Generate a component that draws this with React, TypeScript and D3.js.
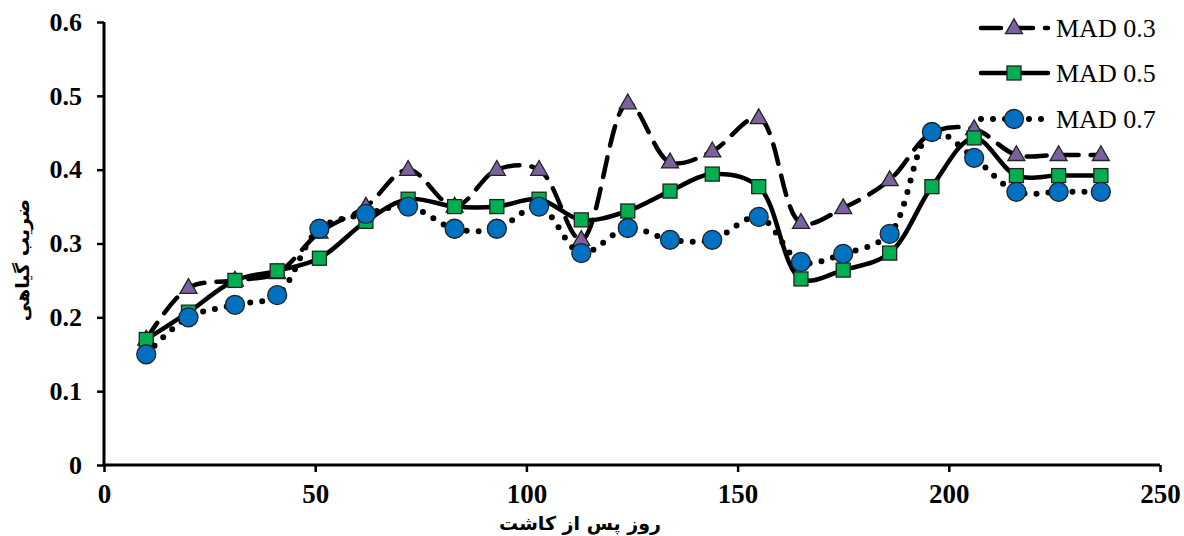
import React, { useEffect, useRef } from "react";
import * as d3 from "d3";

// Days after planting at which the crop coefficient was measured
const days = [10, 20, 31, 41, 51, 62, 72, 83, 93, 103, 113, 124, 134, 144, 155, 165, 175, 186, 196, 206, 216, 226, 236];

// Crop coefficient for each management allowable depletion level
const mad03 = [0.17, 0.24, 0.25, 0.26, 0.315, 0.35, 0.40, 0.35, 0.40, 0.40, 0.305, 0.49, 0.41, 0.425, 0.47, 0.328, 0.348, 0.386, 0.45, 0.455, 0.42, 0.42, 0.42];
const mad05 = [0.17, 0.207, 0.25, 0.263, 0.28, 0.33, 0.36, 0.35, 0.35, 0.36, 0.332, 0.344, 0.371, 0.394, 0.377, 0.252, 0.264, 0.287, 0.377, 0.443, 0.392, 0.392, 0.392];
const mad07 = [0.15, 0.20, 0.217, 0.23, 0.32, 0.34, 0.35, 0.32, 0.32, 0.35, 0.287, 0.321, 0.305, 0.305, 0.336, 0.275, 0.286, 0.313, 0.451, 0.416, 0.37, 0.37, 0.37];

const seriesNames = ["MAD 0.3", "MAD 0.5", "MAD 0.7"];
const xTicks = [0, 50, 100, 150, 200, 250];
const yTicks = [0, 0.1, 0.2, 0.3, 0.4, 0.5, 0.6];

const xTitle = "روز پس از کاشت";
const yTitle = "ضریب گیاهی";

type Style = { dash: string; width: number; marker: "triangle" | "square" | "circle"; fill: string };
const styles: Style[] = [
  { dash: "20 12", width: 4.5, marker: "triangle", fill: "#7B629F" },
  { dash: "", width: 4.5, marker: "square", fill: "#00B050" },
  { dash: "0 12", width: 6, marker: "circle", fill: "#0070C0" },
];

const W = 1184;
const H = 536;
const M = { left: 104, right: 1160, top: 22, bottom: 465 };

function drawMarker(g: d3.Selection<SVGGElement, unknown, null, undefined>, kind: Style["marker"], x: number, y: number, fill: string) {
  if (kind === "triangle") {
    const s = 17;
    const h = s * 0.87;
    g.append("path")
      .attr("d", `M${x},${y - h * 0.62}L${x + s / 2},${y + h * 0.38}L${x - s / 2},${y + h * 0.38}Z`)
      .attr("fill", fill).attr("stroke", "#222").attr("stroke-width", 1.3);
  } else if (kind === "square") {
    const s = 14;
    g.append("rect").attr("x", x - s / 2).attr("y", y - s / 2).attr("width", s).attr("height", s)
      .attr("fill", fill).attr("stroke", "#222").attr("stroke-width", 1.3);
  } else {
    g.append("circle").attr("cx", x).attr("cy", y).attr("r", 9.5)
      .attr("fill", fill).attr("stroke", "#222").attr("stroke-width", 1.3);
  }
}

export default function App() {
  const ref = useRef<SVGSVGElement>(null);

  useEffect(() => {
    const svg = d3.select(ref.current!);
    svg.selectAll("*").remove();

    const x = d3.scaleLinear().domain([0, 250]).range([M.left, M.right]);
    const y = d3.scaleLinear().domain([0, 0.6]).range([M.bottom, M.top]);

    const serif = "'Liberation Serif', 'Times New Roman', serif";
    const persian = "'DejaVu Sans', sans-serif";

    // Y axis
    const yAxis = svg.append("g").attr("transform", `translate(${M.left},0)`)
      .call(d3.axisLeft(y).tickValues(yTicks).tickSize(7).tickPadding(15).tickFormat((d) => d3.format("")(+d)));
    yAxis.select(".domain").attr("stroke", "#000").attr("stroke-width", 3).attr("d", `M0,${M.top}V${M.bottom}`);
    yAxis.selectAll(".tick line").attr("stroke", "#000").attr("stroke-width", 2.5);
    yAxis.selectAll(".tick text").attr("font-family", serif).attr("font-weight", "bold").attr("font-size", 26).attr("fill", "#000");

    // X axis
    const xAxis = svg.append("g").attr("transform", `translate(0,${M.bottom})`)
      .call(d3.axisBottom(x).tickValues(xTicks).tickSize(7).tickPadding(12));
    xAxis.select(".domain").attr("stroke", "#000").attr("stroke-width", 3).attr("d", `M${M.left},0H${M.right}`);
    xAxis.selectAll(".tick line").attr("stroke", "#000").attr("stroke-width", 2.5);
    xAxis.selectAll(".tick text").attr("font-family", serif).attr("font-weight", "bold").attr("font-size", 27).attr("fill", "#000");

    // Axis titles
    svg.append("text").attr("x", 580).attr("y", 530).attr("text-anchor", "middle")
      .attr("font-family", persian).attr("font-weight", "bold").attr("font-size", 19)
      .attr("direction", "rtl").text(xTitle);
    svg.append("text").attr("transform", `translate(29,${260}) rotate(-90)`)
      .attr("text-anchor", "middle")
      .attr("font-family", persian).attr("font-weight", "bold").attr("font-size", 19)
      .attr("direction", "rtl").text(yTitle);

    const data = [mad03, mad05, mad07];
    const line = d3.line<number>()
      .x((_, i) => x(days[i]))
      .y((d) => y(d))
      .curve(d3.curveCatmullRom.alpha(0.5));

    data.forEach((vals, si) => {
      const st = styles[si];
      const g = svg.append("g");
      g.append("path").attr("d", line(vals)!).attr("fill", "none").attr("stroke", "#000")
        .attr("stroke-width", st.width).attr("stroke-dasharray", st.dash || null).attr("stroke-linecap", "round");
      vals.forEach((v, i) => drawMarker(g, st.marker, x(days[i]), y(v), st.fill));
    });

    // Legend
    const legendY = [28, 73, 119];
    seriesNames.forEach((name, si) => {
      const st = styles[si];
      const g = svg.append("g");
      const ly = legendY[si];
      g.append("path").attr("d", `M${981},${ly}H${1048}`).attr("fill", "none").attr("stroke", "#000")
        .attr("stroke-width", st.width).attr("stroke-dasharray", st.dash || null).attr("stroke-linecap", "round");
      drawMarker(g, st.marker, 1014, ly, st.fill);
      g.append("text").attr("x", 1056).attr("y", ly + 9).attr("font-family", serif).attr("font-size", 26)
        .attr("fill", "#000").text(name);
    });
  }, []);

  return <svg ref={ref} width={W} height={H} style={{ display: "block", position: "absolute", left: 0, top: 0, background: "#fff" }} />;
}
